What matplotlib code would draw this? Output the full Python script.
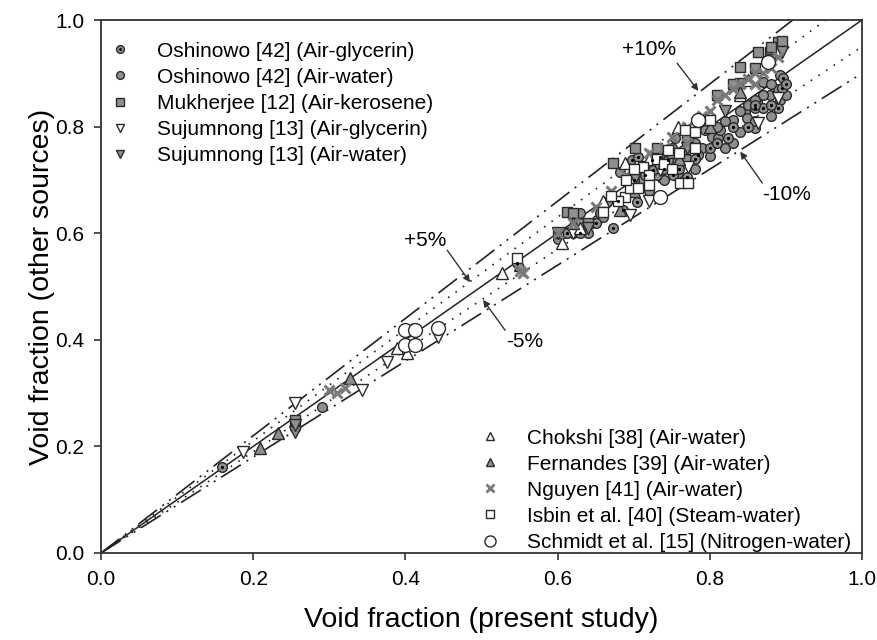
import numpy as np
import matplotlib
matplotlib.use("Agg")
import matplotlib.pyplot as plt
from matplotlib.lines import Line2D
from matplotlib.legend_handler import HandlerBase

plt.rcParams['font.family'] = ['Liberation Sans', 'DejaVu Sans']

# ---------------- data ----------------
osh_gly_x = [0.159, 0.547, 0.612, 0.686, 0.704, 0.698, 0.705, 0.715, 0.724, 0.725, 0.735, 0.745,
             0.752, 0.770, 0.785, 0.824, 0.859, 0.870, 0.890, 0.895, 0.896, 0.650, 0.673,
             0.630, 0.680, 0.700, 0.740, 0.760, 0.780, 0.800, 0.810, 0.830, 0.850, 0.880, 0.900, 0.860]
osh_gly_y = [0.161, 0.545, 0.600, 0.643, 0.659, 0.737, 0.743, 0.709, 0.737, 0.719, 0.743, 0.737,
             0.709, 0.706, 0.747, 0.779, 0.835, 0.835, 0.835, 0.872, 0.891, 0.620, 0.610,
             0.600, 0.660, 0.700, 0.720, 0.720, 0.740, 0.760, 0.770, 0.800, 0.800, 0.840, 0.880, 0.840]

osh_wat_x = [0.255, 0.290, 0.630, 0.652, 0.656, 0.665, 0.682, 0.735, 0.754, 0.758, 0.770, 0.794,
             0.803, 0.811, 0.813, 0.830, 0.846, 0.849, 0.859, 0.862, 0.879, 0.870, 0.892, 0.892,
             0.600, 0.620, 0.640, 0.700, 0.720, 0.740, 0.760, 0.780, 0.790, 0.800, 0.820, 0.840,
             0.860, 0.880, 0.890, 0.900, 0.610, 0.630, 0.660, 0.680, 0.710, 0.730, 0.750, 0.770,
             0.780, 0.810, 0.820, 0.840, 0.850, 0.870, 0.880, 0.860, 0.830, 0.750, 0.720]
osh_wat_y = [0.235, 0.274, 0.638, 0.625, 0.638, 0.659, 0.715, 0.724, 0.779, 0.713, 0.756, 0.794,
             0.780, 0.779, 0.794, 0.812, 0.827, 0.816, 0.797, 0.846, 0.859, 0.884, 0.897, 0.850,
             0.590, 0.600, 0.600, 0.690, 0.680, 0.700, 0.730, 0.720, 0.760, 0.745, 0.760, 0.790,
             0.810, 0.820, 0.870, 0.860, 0.600, 0.620, 0.630, 0.660, 0.700, 0.710, 0.740, 0.740,
             0.770, 0.800, 0.810, 0.830, 0.840, 0.860, 0.880, 0.850, 0.770, 0.760, 0.720]

muk_x = [0.255, 0.600, 0.612, 0.620, 0.673, 0.702, 0.840, 0.840, 0.863, 0.879, 0.890, 0.895, 0.750, 0.770,
         0.640, 0.700, 0.730, 0.810, 0.830, 0.860, 0.880]
muk_y = [0.250, 0.600, 0.640, 0.637, 0.732, 0.760, 0.912, 0.882, 0.940, 0.940, 0.959, 0.960, 0.750, 0.780,
         0.620, 0.720, 0.760, 0.860, 0.880, 0.910, 0.950]

suj_gly_x = [0.187, 0.255, 0.343, 0.376, 0.443, 0.695, 0.708, 0.735, 0.771, 0.863, 0.890, 0.620, 0.720]
suj_gly_y = [0.190, 0.281, 0.306, 0.358, 0.405, 0.634, 0.724, 0.719, 0.724, 0.807, 0.854, 0.600, 0.660]

suj_wat_x = [0.255, 0.255, 0.600, 0.640, 0.700, 0.730, 0.770, 0.820, 0.895, 0.880]
suj_wat_y = [0.227, 0.240, 0.600, 0.610, 0.700, 0.730, 0.760, 0.830, 0.940, 0.925]

chok_x = [0.389, 0.402, 0.527, 0.606, 0.689, 0.695, 0.758, 0.850, 0.840, 0.720, 0.660, 0.630]
chok_y = [0.385, 0.375, 0.525, 0.582, 0.732, 0.700, 0.800, 0.887, 0.860, 0.740, 0.660, 0.610]

fern_x = [0.209, 0.233, 0.327, 0.682, 0.840, 0.620, 0.700, 0.760, 0.800, 0.550]
fern_y = [0.197, 0.225, 0.328, 0.644, 0.865, 0.620, 0.680, 0.740, 0.800, 0.540]

nguy_x = [0.300, 0.310, 0.320, 0.550, 0.555, 0.600, 0.620, 0.650, 0.670, 0.690, 0.720, 0.750, 0.770,
          0.790, 0.810, 0.800, 0.820, 0.830, 0.840, 0.850, 0.860, 0.870, 0.880, 0.890, 0.860, 0.770, 0.740]
nguy_y = [0.305, 0.300, 0.310, 0.530, 0.525, 0.600, 0.620, 0.650, 0.680, 0.710, 0.750, 0.780, 0.800,
          0.820, 0.850, 0.830, 0.860, 0.870, 0.880, 0.890, 0.900, 0.900, 0.910, 0.930, 0.880, 0.770, 0.760]

isb_x = [0.547, 0.689, 0.695, 0.705, 0.712, 0.745, 0.761, 0.771, 0.767, 0.800, 0.720, 0.730,
         0.780, 0.760, 0.700, 0.660, 0.680, 0.740, 0.750, 0.780, 0.720, 0.690, 0.670]
isb_y = [0.553, 0.668, 0.685, 0.685, 0.724, 0.756, 0.694, 0.694, 0.794, 0.812, 0.710, 0.740,
         0.760, 0.750, 0.720, 0.640, 0.660, 0.730, 0.720, 0.790, 0.690, 0.700, 0.670]

sch_x = [0.400, 0.413, 0.400, 0.413, 0.443, 0.735, 0.785, 0.876]
sch_y = [0.418, 0.418, 0.390, 0.390, 0.422, 0.668, 0.812, 0.921]

ref_x = [0.0, 1.0]
bands = [1.05, 0.95, 1.10, 0.90]

# ---------------- figure ----------------
W, H = 877, 640
fig = plt.figure(figsize=(W / 100, H / 100), dpi=100)
L, R, T, B = 101, 862, 20, 553
ax = fig.add_axes([L / W, (H - B) / H, (R - L) / W, (B - T) / H])
ax.set_xlim(0, 1)
ax.set_ylim(0, 1)

lc = '#222222'
rx = np.array(ref_x)
ax.plot(rx, rx, color=lc, lw=1.1, zorder=1)
for f in bands:
    xe = min(1.0, 1.0 / f)
    xs = np.array([0.0, xe])
    if f in (1.05, 0.95):
        ls = (0, (1, 4.5))
        lw = 1.2
    else:
        ls = (0, (14, 4, 1.2, 4, 1.2, 4))
        lw = 1.2
    ax.plot(xs, f * xs, color=lc, lw=lw, ls=ls, zorder=1)

gray = '#8f8f8f'
ec = '#2a2a2a'
ms = 7.0
mew = 1.0
sms = 10.0

ax.plot(osh_wat_x, osh_wat_y, 'o', ms=ms, mfc=gray, mec=ec, mew=mew, zorder=3)
ax.plot(osh_gly_x, osh_gly_y, 'o', ms=ms, mfc=gray, mec=ec, mew=mew, zorder=3)
ax.plot(osh_gly_x, osh_gly_y, 'o', ms=2.3, mfc='black', mec='black', mew=0, zorder=3.1)
ax.plot(muk_x, muk_y, 's', ms=ms, mfc=gray, mec=ec, mew=mew, zorder=3)
ax.plot(suj_gly_x, suj_gly_y, 'v', ms=ms + 1, mfc='white', mec=ec, mew=mew, zorder=3)
ax.plot(suj_wat_x, suj_wat_y, 'v', ms=ms + 1, mfc=gray, mec=ec, mew=mew, zorder=3)
ax.plot(chok_x, chok_y, '^', ms=ms + 1, mfc='white', mec=ec, mew=mew, zorder=3)
ax.plot(fern_x, fern_y, '^', ms=ms + 1, mfc=gray, mec=ec, mew=mew, zorder=3)
ax.plot(nguy_x, nguy_y, 'x', ms=ms, mec='#7a7a7a', mew=2.2, zorder=3)
ax.plot(isb_x, isb_y, 's', ms=ms, mfc='white', mec=ec, mew=mew, zorder=3)
ax.plot(sch_x, sch_y, 'o', ms=sms, mfc='white', mec=ec, mew=mew, zorder=3)

# ---------------- annotations ----------------
afs = 15
arr = dict(arrowstyle='-|>', color='#333333', lw=1.0, mutation_scale=10, shrinkA=0, shrinkB=0)
ax.annotate('', xy=(0.785, 0.867), xytext=(0.757, 0.919), arrowprops=arr)
ax.text(0.72, 0.944, '+10%', fontsize=afs, ha='center', va='center')
ax.annotate('', xy=(0.840, 0.753), xytext=(0.869, 0.694), arrowprops=arr)
ax.text(0.901, 0.672, '-10%', fontsize=afs, ha='center', va='center')
ax.annotate('', xy=(0.485, 0.508), xytext=(0.455, 0.568), arrowprops=arr)
ax.text(0.426, 0.587, '+5%', fontsize=afs, ha='center', va='center')
ax.annotate('', xy=(0.502, 0.475), xytext=(0.531, 0.418), arrowprops=arr)
ax.text(0.557, 0.396, '-5%', fontsize=afs, ha='center', va='center')

# ---------------- axes styling ----------------
ticks = [0.0, 0.2, 0.4, 0.6, 0.8, 1.0]
ax.set_xticks(ticks)
ax.set_yticks(ticks)
ax.set_xticklabels([f'{t:.1f}' for t in ticks])
ax.set_yticklabels([f'{t:.1f}' for t in ticks])
ax.tick_params(direction='out', length=5, width=1.1, labelsize=15, pad=7, color='#222222')
for s in ax.spines.values():
    s.set_linewidth(1.3)
    s.set_color('#333333')

ax.set_xlabel('Void fraction (present study)', fontsize=20.5, ha='center', va='center')
ax.set_ylabel('Void fraction (other sources)', fontsize=20.5, ha='center', va='center')
ax.xaxis.set_label_coords(0.5, -(620 - B) / (B - T))
ax.yaxis.set_label_coords(-(L - 42) / (R - L), 0.5)

# ---------------- legends ----------------
def h(marker, mfc, mec, msz=ms, mew_=mew):
    return Line2D([], [], ls='none', marker=marker, ms=msz, mfc=mfc, mec=mec, mew=mew_)

class DotCircle:
    pass

k = 0.8

class HandlerDotCircle(HandlerBase):
    def create_artists(self, legend, orig_handle, xdescent, ydescent, width, height, fontsize, trans):
        cx = width / 2 - xdescent
        cy = height / 2 - ydescent
        a = Line2D([cx], [cy], ls='none', marker='o', ms=ms * k, mfc=gray, mec=ec, mew=mew, transform=trans)
        b = Line2D([cx], [cy], ls='none', marker='o', ms=2.0, mfc='black', mec='black', mew=0, transform=trans)
        return [a, b]

lab1 = ['Oshinowo [42] (Air-glycerin)', 'Oshinowo [42] (Air-water)', 'Mukherjee [12] (Air-kerosene)',
        'Sujumnong [13] (Air-glycerin)', 'Sujumnong [13] (Air-water)']
hd1 = [DotCircle(), h('o', gray, ec, ms * k), h('s', gray, ec, ms * k),
       h('v', 'white', ec, (ms + 1) * k), h('v', gray, ec, (ms + 1) * k)]
leg1 = ax.legend(hd1, lab1, loc='upper left', bbox_to_anchor=(0.0, 1.0 - 17.5 / (B - T)),
                 frameon=False, fontsize=15, handlelength=1.44, handletextpad=1.06,
                 borderpad=0.2, borderaxespad=0, labelspacing=0.34,
                 handler_map={DotCircle: HandlerDotCircle()})
ax.add_artist(leg1)

lab2 = ['Chokshi [38] (Air-water)', 'Fernandes [39] (Air-water)', 'Nguyen [41] (Air-water)',
        'Isbin et al. [40] (Steam-water)', 'Schmidt et al. [15] (Nitrogen-water)']
hd2 = [h('^', 'white', ec, (ms + 1) * k), h('^', gray, ec, (ms + 1) * k),
       Line2D([], [], ls='none', marker='x', ms=ms * k, mec='#7a7a7a', mew=2.0),
       h('s', 'white', ec, ms * k), h('o', 'white', ec, sms * k)]
ax.legend(hd2, lab2, loc='lower left', bbox_to_anchor=((471 - L) / (R - L), -3 / (B - T)),
          frameon=False, fontsize=15, handlelength=1.44, handletextpad=1.06,
          borderpad=0.2, borderaxespad=0, labelspacing=0.34)

fig.savefig('out.png', dpi=100)
